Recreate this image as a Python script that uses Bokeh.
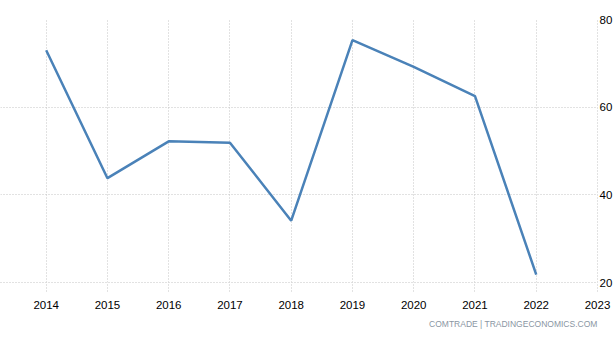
from bokeh.plotting import figure
from bokeh.models import Range1d, LinearAxis, FixedTicker, Title
from bokeh.embed import file_html
from bokeh.resources import INLINE

years = [2014, 2015, 2016, 2017, 2018, 2019, 2020, 2021, 2022]
values = [73.0, 43.8, 52.2, 51.9, 34.1, 75.3, 69.2, 62.5, 21.8]
x_ticks = [2014, 2015, 2016, 2017, 2018, 2019, 2020, 2021, 2022, 2023]
y_ticks = [20, 40, 60, 80]
source_text = "COMTRADE | TRADINGECONOMICS.COM"

GRID = "#c4c4c4"
DOT = "1 2"
FONT = "Liberation Sans"

p = figure(width=615, height=340, output_backend="svg", toolbar_location=None,
           x_range=Range1d(2013.254, 2023), y_range=Range1d(20, 80),
           min_border_left=0, min_border_top=19, min_border_bottom=58, min_border_right=0,
           y_axis_location=None)
p.outline_line_color = None
p.background_fill_color = "white"
p.border_fill_color = "white"

p.line(years, values, line_color="#4a82b8", line_width=2.5)

# x axis
xa = p.xaxis[0]
xa.ticker = FixedTicker(ticks=x_ticks)
xa.minor_tick_line_color = None
xa.major_tick_in = 0
xa.major_tick_out = 9
xa.major_tick_line_color = GRID
xa.major_tick_line_dash = DOT
xa.axis_line_color = GRID
xa.axis_line_dash = DOT
xa.major_label_text_font = FONT
xa.major_label_text_font_size = "11.5px"
xa.major_label_text_color = "#000000"
xa.major_label_standoff = 9

# right y axis
ya = LinearAxis(ticker=FixedTicker(ticks=y_ticks))
ya.minor_tick_line_color = None
ya.major_tick_in = 0
ya.major_tick_out = 0
ya.axis_line_color = GRID
ya.axis_line_dash = DOT
ya.major_label_text_font = FONT
ya.major_label_text_font_size = "11.5px"
ya.major_label_text_color = "#000000"
ya.major_label_standoff = 2
p.add_layout(ya, "right")

p.xgrid.ticker = FixedTicker(ticks=x_ticks)
p.ygrid.ticker = FixedTicker(ticks=y_ticks)
for g in (p.xgrid, p.ygrid):
    g.grid_line_color = GRID
    g.grid_line_dash = DOT
    g.grid_line_width = 1

src = Title(text=source_text, align="right", offset=0,
            text_font=FONT, text_font_size="8.5px", text_color="#8a96a3",
            text_font_style="normal", standoff=10)
p.add_layout(src, "below")

open("out.html", "w").write(file_html(p, INLINE))
